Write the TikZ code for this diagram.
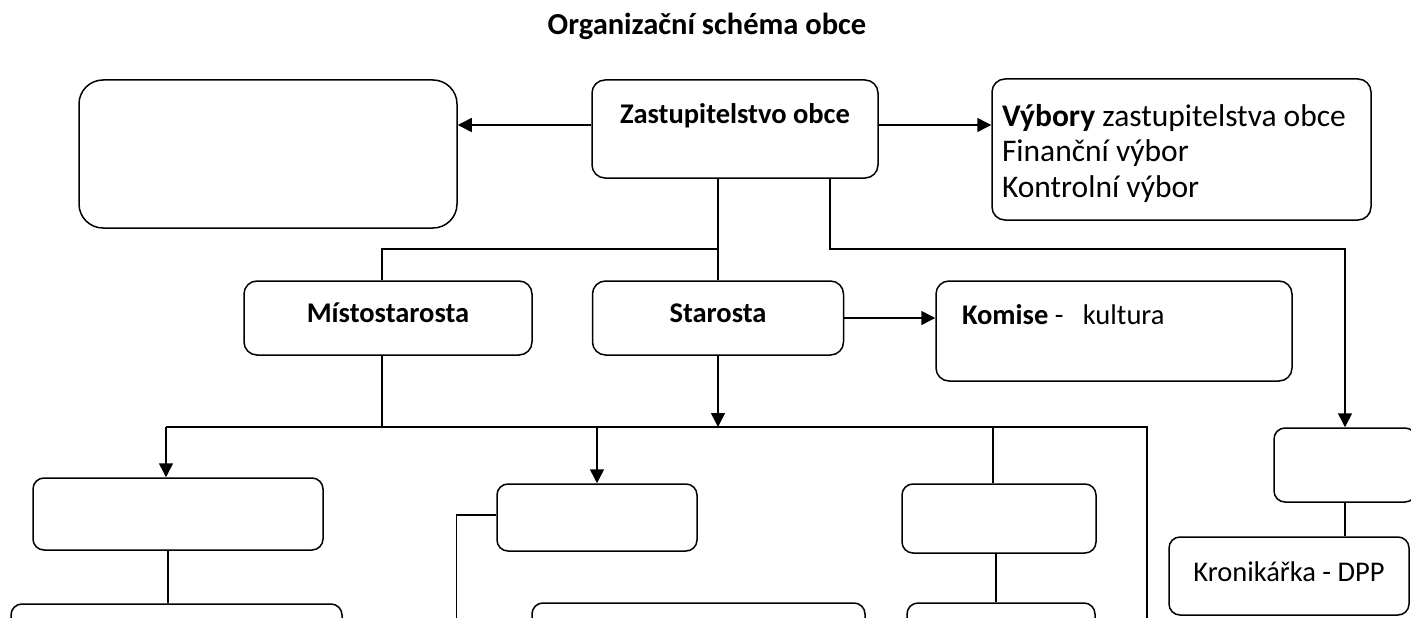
\documentclass[tikz,border=0pt]{standalone}
\usepackage{fontspec}
\setmainfont{Carlito}
\usetikzlibrary{arrows.meta}

\tikzset{
  box/.style={draw, line width=1.5pt, rounded corners=13pt, inner sep=0pt, text height=18pt},
  arr/.style={line width=1.5pt, -{Triangle[length=14pt,width=14pt]}},
  link/.style={line width=1.5pt},
}

\begin{document}
\begin{tikzpicture}[x=1pt, y=-1pt, font=\fontsize{28.5pt}{35.5pt}\selectfont]
\clip (0,0) rectangle (1411,618);

% --- Nadpis ---
\node[font=\fontsize{30.5pt}{34pt}\selectfont\bfseries, text height=18pt, text depth=5pt] (title) at (707,28.5) {Organizační schéma obce};

% --- Horní řada ---
\node[box, rounded corners=24pt, minimum width=378pt, minimum height=148pt] (gov) at (268,154) {};
\node[box, minimum width=286pt, minimum height=98pt, text depth=29.6pt] (zast) at (735,129) {\textbf{Zastupitelstvo obce}};
\node[box, font=\fontsize{31.5pt}{35.5pt}\selectfont, minimum width=379pt, minimum height=141pt, inner xsep=10pt, text width=359pt, align=flush left, text depth=64.8pt] (vybory) at (1181.5,149.5)
  {\textbf{Výbory} zastupitelstva obce\\Finanční výbor\\Kontrolní výbor};

% --- Starosta a místostarosta ---
\node[box, minimum width=288pt, minimum height=74pt, text depth=9.6pt] (misto) at (388,318) {\textbf{Místostarosta}};
\node[box, minimum width=251pt, minimum height=74pt, text depth=9.6pt] (starosta) at (718,318) {\textbf{Starosta}};
\node[box, minimum width=356pt, minimum height=100pt, inner xsep=26pt, text width=304pt, align=flush left, text depth=31.6pt] (komise) at (1114,331)
  {\textbf{Komise} -\ \ \ kultura};

% --- Pravý sloupec ---
\node[box, rounded corners=11pt, minimum width=142pt, minimum height=74pt] (ki) at (1345,465) {};
\node[box, rounded corners=11pt, minimum width=240pt, minimum height=78pt, text depth=7.6pt] (kron) at (1289,576) {Kronikářka - DPP};

% --- Dolní řady ---
\node[box, rounded corners=11pt, minimum width=290pt, minimum height=72pt] (b1) at (178,514) {};
\node[box, rounded corners=11pt, minimum width=200pt, minimum height=67pt] (b2) at (597,517.5) {};
\node[box, rounded corners=11pt, minimum width=194pt, minimum height=69pt] (b3) at (999,518.5) {};
\node[box, rounded corners=11pt, minimum width=331pt, minimum height=72pt] (b4) at (176.5,640) {};
\node[box, rounded corners=11pt, minimum width=333pt, minimum height=72pt] (b5) at (698.5,639) {};
\node[box, rounded corners=11pt, minimum width=188pt, minimum height=72pt] (b6) at (1001,639) {};

% --- Spojnice ---
\coordinate (zw) at ([yshift=4pt]zast.west);
\coordinate (ze) at ([yshift=4pt]zast.east);
\coordinate (split) at (718,249);
\coordinate (busL) at (166,427);
\coordinate (busR) at (1147,427);

\draw[arr] (zw) -- (zw -| gov.east);
\draw[arr] (ze) -- (ze -| vybory.west);
\draw[link] ([xshift=-17pt]zast.south) -- (starosta.north);
\draw[link] (split) -| ([xshift=-6pt]misto.north);
\draw[arr] ([xshift=95pt]zast.south) |- (split -| ki.north) -- (ki.north);
\draw[arr] (starosta.east) -- (starosta.east -| komise.west);
\draw[link] (ki.south) -- (ki.south |- kron.north);

\draw[arr] (starosta.south) -- (starosta.south |- busL);
\draw[link] ([xshift=-6pt]misto.south) -- ([xshift=-6pt]misto.south |- busL);
\draw[link] (busL) -- (busR) -- ++(0,220);

\draw[arr] (busL) -- (busL |- b1.north);
\draw[arr] (b2.north |- busL) -- (b2.north);
\draw[link] ([xshift=-6pt]b3.north |- busL) -- ([xshift=-6pt]b3.north);
\draw[link] ([xshift=-10pt]b1.south) -- ([xshift=-10pt]b1.south |- b4.north);
\draw[link] ([xshift=-3pt]b3.south) -- ([xshift=-3pt]b3.south |- b6.north);
\draw[link] ([yshift=2.5pt]b2.west) -- ++(-40,0) -- ++(0,200);

\end{tikzpicture}
\end{document}
